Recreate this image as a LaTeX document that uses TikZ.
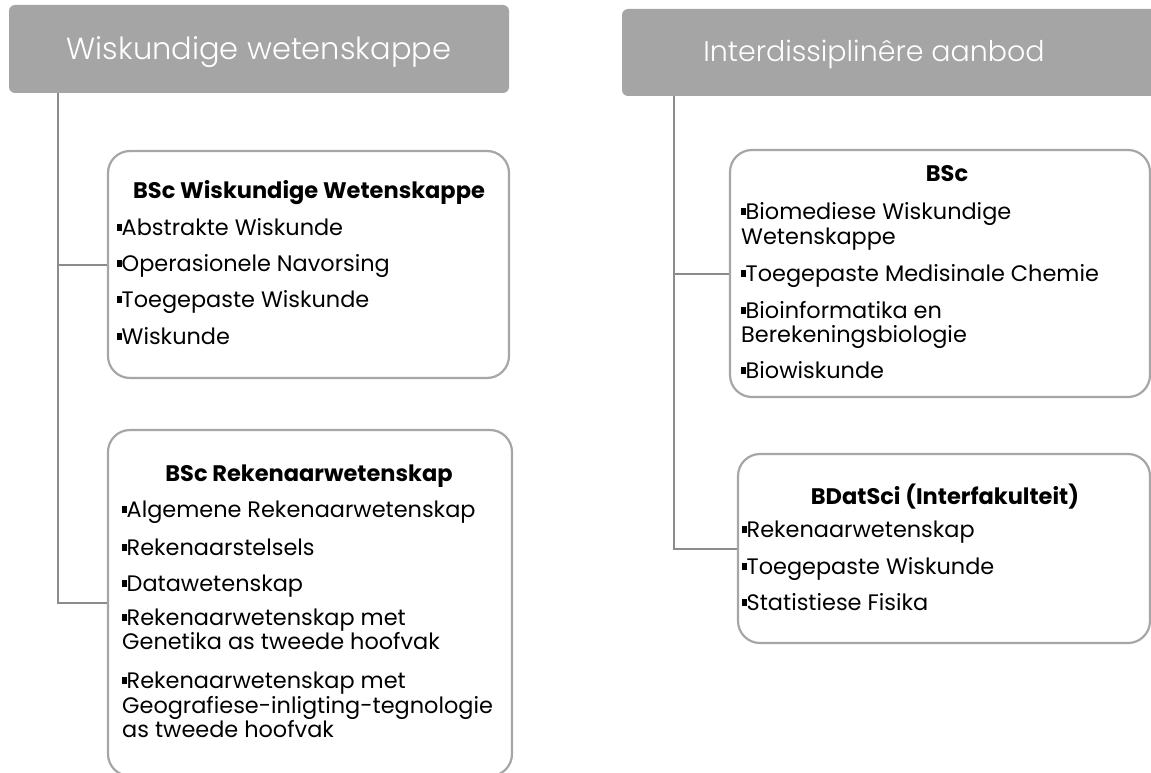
\documentclass[tikz,border=0pt]{standalone}
\usepackage{fontspec}
\setmainfont{Poppins}
\newfontfamily\lightfont{Poppins Light}
\definecolor{hdrgray}{HTML}{A5A5A5}
\definecolor{linegray}{HTML}{8C8C8C}
\definecolor{boxgray}{HTML}{A6A6A6}
\newcommand{\sq}{\rule[0.2em]{0.2em}{0.28em}}
\tikzset{
  hdr/.style={fill=hdrgray, rounded corners=6pt, inner sep=0pt},
  hdrtxt/.style={inner sep=0pt, anchor=base, text=white},
  pbox/.style={draw=boxgray, line width=2.2pt, rounded corners=22pt, fill=white, inner sep=0pt},
  conn/.style={draw=linegray, line width=2pt},
  ttl/.style={anchor=base, inner sep=0pt, font=\bfseries\fontsize{22.5}{26}\selectfont},
  itm/.style={anchor=base west, inner sep=0pt, font=\fontsize{22.4}{26}\selectfont},
}
\begin{document}
\begin{tikzpicture}[x=1pt,y=-1pt]
\useasboundingbox (0,0) rectangle (1151,773);
\clip (0,0) rectangle (1151,773);
% headers
\node[hdr, minimum width=500pt, minimum height=88pt] (h1) at (259,49) {};
\node[hdrtxt, font=\lightfont\fontsize{30.5}{34}\selectfont] (h1t) at (259,60) {Wiskundige wetenskappe};
\node[hdr, minimum width=540pt, minimum height=87pt] (h2) at (892,52.5) {};
\node[hdrtxt, font=\lightfont\fontsize{28.5}{32}\selectfont] (h2t) at (874,62) {Interdissiplinêre aanbod};
% boxes
\node[pbox, minimum width=401pt, minimum height=227pt] (b1) at (308.5,264.5) {};
\node[pbox, minimum width=404pt, minimum height=346pt] (b2) at (310,603) {};
\node[pbox, minimum width=420pt, minimum height=247pt] (b3) at (940,273.5) {};
\node[pbox, minimum width=412pt, minimum height=189pt] (b4) at (944,548.5) {};
% connectors
\draw[conn] ([xshift=49pt]h1.south west) |- (b1.west);
\draw[conn] ([xshift=49pt]h1.south west) |- (b2.west);
\draw[conn] ([xshift=52pt]h2.south west) |- (b3.west);
\draw[conn] ([xshift=52pt]h2.south west) |- (b4.west);
% box 1
\node[ttl] (t1) at (309,198) {BSc Wiskundige Wetenskappe};
\node[itm] (i11) at (117,235) {\sq Abstrakte Wiskunde};
\node[itm] (i12) at (117,271) {\sq Operasionele Navorsing};
\node[itm] (i13) at (117,307) {\sq Toegepaste Wiskunde};
\node[itm] (i14) at (117,344) {\sq Wiskunde};
% box 2
\node[ttl] (t2) at (309,481) {BSc Rekenaarwetenskap};
\node[itm] (i21) at (122,517) {\sq Algemene Rekenaarwetenskap};
\node[itm] (i22) at (122,555) {\sq Rekenaarstelsels};
\node[itm] (i23) at (122,591) {\sq Datawetenskap};
\node[itm] (i24) at (122,625) {\sq Rekenaarwetenskap met};
\node[itm] (i24b) at (122,649) {Genetika as tweede hoofvak};
\node[itm] (i25) at (122,688) {\sq Rekenaarwetenskap met};
\node[itm] (i25b) at (122,713) {Geografiese-inligting-tegnologie};
\node[itm] (i25c) at (122,737) {as tweede hoofvak};
% box 3
\node[ttl] (t3) at (947,182) {BSc};
\node[itm] (i31) at (741,219) {\sq Biomediese Wiskundige};
\node[itm] (i31b) at (741,244) {Wetenskappe};
\node[itm] (i32) at (741,281) {\sq Toegepaste Medisinale Chemie};
\node[itm] (i33) at (741,318) {\sq Bioinformatika en};
\node[itm] (i33b) at (741,342) {Berekeningsbiologie};
\node[itm] (i34) at (741,378) {\sq Biowiskunde};
% box 4
\node[ttl] (t4) at (945,504) {BDatSci (Interfakulteit)};
\node[itm] (i41) at (742,537) {\sq Rekenaarwetenskap};
\node[itm] (i42) at (742,574) {\sq Toegepaste Wiskunde};
\node[itm] (i43) at (742,610) {\sq Statistiese Fisika};
\end{tikzpicture}
\end{document}
